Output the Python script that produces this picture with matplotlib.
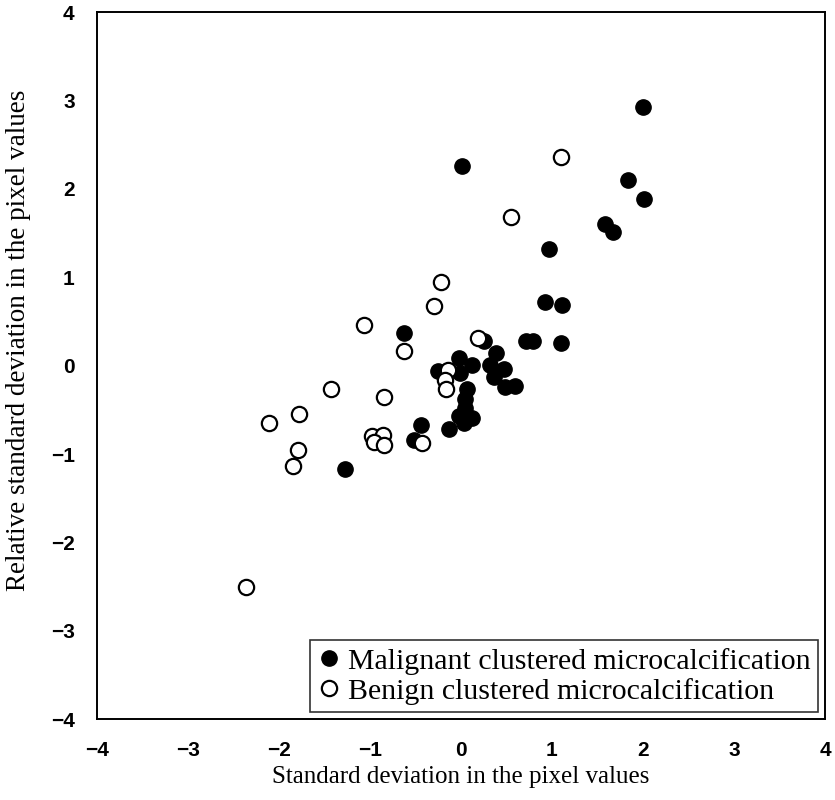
import matplotlib.pyplot as plt

# malignant clusters (filled markers)
mal_x = [2.00, 0.01, 1.84, 2.01, 1.58, 1.67, 0.97, 0.92, 1.11, 0.72, 0.79, 1.10,
         -0.63, 0.25, -0.02, 0.12, -0.25, -0.01, 0.39, 0.32, 0.47, 0.36, 0.48, 0.59,
         0.07, 0.05, 0.04, -0.02, 0.12, 0.03, -0.13, -0.44, -0.52, -1.27]
mal_y = [2.93, 2.26, 2.10, 1.89, 1.60, 1.51, 1.32, 0.72, 0.69, 0.28, 0.28, 0.26,
         0.37, 0.28, 0.09, 0.01, -0.06, -0.08, 0.14, 0.01, -0.04, -0.13, -0.24, -0.23,
         -0.27, -0.38, -0.48, -0.57, -0.59, -0.65, -0.72, -0.67, -0.84, -1.17]

# benign clusters (open markers)
ben_x = [1.10, 0.55, -0.22, -0.30, -1.07, -0.63, 0.19, -1.43, -0.85, -0.14, -0.18,
         -0.16, -1.78, -2.11, -0.98, -0.86, -0.96, -0.85, -1.79, -1.84, -0.43, -2.36]
ben_y = [2.36, 1.68, 0.95, 0.67, 0.46, 0.16, 0.31, -0.26, -0.35, -0.05, -0.16,
         -0.27, -0.55, -0.65, -0.80, -0.79, -0.86, -0.90, -0.95, -1.14, -0.87, -2.50]

fig = plt.figure(figsize=(8.35, 8), dpi=100)
ax = fig.add_axes([0.116, 0.101, 0.872, 0.884])

ax.plot(mal_x, mal_y, 'o', color='black', markersize=11, linestyle='none',
        label='Malignant clustered microcalcification')
ax.plot(ben_x, ben_y, 'o', markerfacecolor='white', markeredgecolor='black',
        markeredgewidth=1.6, markersize=11, linestyle='none',
        label='Benign clustered microcalcification')

ax.set_xlim(-4, 4)
ax.set_ylim(-4, 4)
ax.set_xticks(range(-4, 5))
ax.set_yticks(range(-4, 5))
ax.tick_params(length=0, labelsize=15)
ax.tick_params(axis='x', pad=16)
ax.tick_params(axis='y', pad=16)
for lab in ax.get_xticklabels() + ax.get_yticklabels():
    lab.set_family('Liberation Sans')
    lab.set_weight('bold')
for sp in ax.spines.values():
    sp.set_linewidth(1.4)

ax.set_xlabel('Standard deviation in the pixel values', family='Liberation Serif',
              fontsize=18, labelpad=4)
ax.set_ylabel('Relative standard deviation in the pixel values',
              family='Liberation Serif', fontsize=19.5)
ax.yaxis.set_label_coords(-0.09, 0.536)

leg = ax.legend(loc='lower right', prop={'family': 'Liberation Serif', 'size': 21.5},
                frameon=True, fancybox=False, edgecolor='black', handletextpad=0.25,
                borderpad=0.25, labelspacing=0.1, handlelength=0.8,
                borderaxespad=0, bbox_to_anchor=(0.991, 0.01))
leg.get_frame().set_linewidth(1.2)

fig.savefig('out.png', dpi=100)
